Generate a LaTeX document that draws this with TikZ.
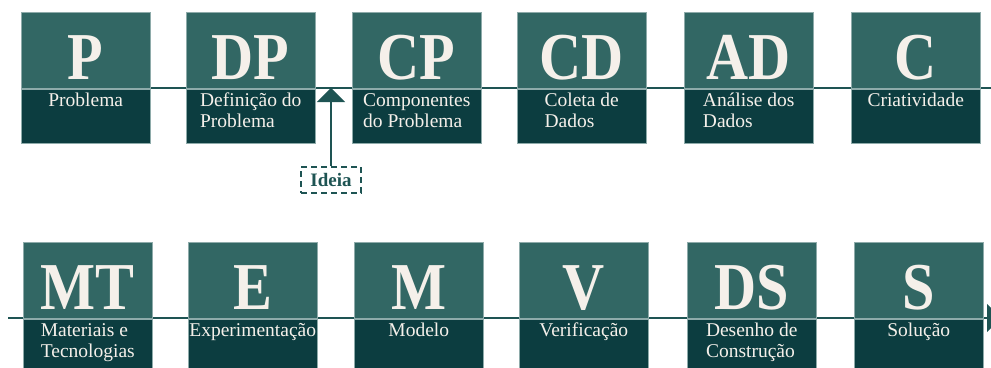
\documentclass[tikz,border=0pt]{standalone}
\usepackage{fontspec}
\setmainfont{Liberation Serif}
\newfontfamily\initialsfont[FakeStretch=0.87]{Liberation Serif}
\usepackage{xcolor}
\usepackage{tikz}
\usetikzlibrary{arrows.meta,positioning}

\definecolor{tealup}{HTML}{326764}
\definecolor{tealdown}{HTML}{0C3D40}
\definecolor{tealline}{HTML}{1E5453}
\definecolor{cream}{HTML}{F5F0EA}

\tikzset{
  upbox/.style={fill=tealup, draw=tealup!55!white, line width=0.5pt, minimum width=129pt, minimum height=76pt, inner sep=0pt, anchor=north west},
  downbox/.style={fill=tealdown, draw=tealup!55!white, line width=0.5pt, minimum width=129pt, minimum height=54pt, inner sep=0pt, anchor=north west},
  initials/.style={text=cream, font=\initialsfont\bfseries\fontsize{67}{67}\selectfont, inner sep=0pt, anchor=base},
  caption/.style={text=cream, font=\fontsize{19.5}{21}\selectfont, align=left, inner sep=0pt, anchor=north},
  flow/.style={draw=tealline, line width=2pt},
  ideabox/.style={draw=tealline, dash pattern=on 6pt off 4pt, line width=1.5pt, text=tealline, font=\bfseries\fontsize{19}{20}\selectfont, minimum width=60pt, minimum height=26pt, inner sep=0pt}
}

\begin{document}
\begin{tikzpicture}[x=1pt, y=-1pt]
  \useasboundingbox (0,0) rectangle (991,367);

  % Flow lines
  \coordinate (topstart) at (21,88);
  \coordinate (topend) at (991,88);
  \coordinate (botstart) at (8,318);
  \coordinate (botend) at (1001,318);
  \draw[flow] (topstart) -- (topend);
  \draw[flow, -{Triangle[width=28pt,length=14pt]}] (botstart) -- (botend);

  % First row
  \foreach \x/\n/\ini/\txt in {21/p/P/Problema, 186/dp/DP/{Definição do\\Problema}, 352/cp/CP/{Componentes\\do Problema}, 517/cd/CD/{Coleta de\\Dados}, 684/ad/AD/{Análise dos\\Dados}, 851/c/C/Criatividade}{
    \node[upbox] (up\n) at (\x,12) {};
    \node[downbox] (down\n) at (up\n.south west) {};
    \node[initials] at ([yshift=9pt]up\n.south) {\ini};
    \node[caption] at ([yshift=-4.5pt]down\n.north) {\txt};
  }

  % Second row
  \foreach \x/\n/\ini/\txt in {23/mt/MT/{Materiais e\\Tecnologias}, 188/e/E/Experimentação, 354/m/M/Modelo, 519/v/V/Verificação, 687/ds/DS/{Desenho de\\Construção}, 854/s/S/Solução}{
    \node[upbox] (up\n) at (\x,242) {};
    \node[downbox] (down\n) at (up\n.south west) {};
    \node[initials] at ([yshift=9pt]up\n.south) {\ini};
    \node[caption] at ([yshift=-4.5pt]down\n.north) {\txt};
  }

  % Idea
  \node[ideabox] (idea) at (331,180) {Ideia};
  \coordinate (ideatip) at (idea.north |- topstart);
  \draw[flow, -{Triangle[width=28pt,length=14pt]}] (idea.north) -- (ideatip);
\end{tikzpicture}
\end{document}
